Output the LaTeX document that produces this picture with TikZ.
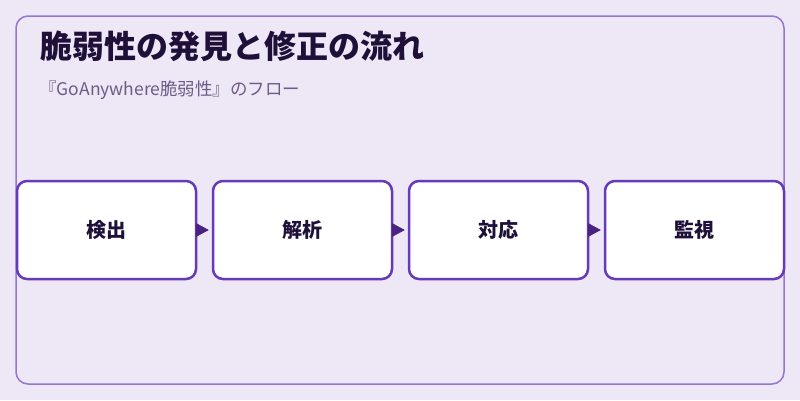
\documentclass[tikz,border=0pt]{standalone}
\usepackage{fontspec}
\setmainfont{Noto Sans CJK JP}
\usepackage{tikz}
\usetikzlibrary{arrows.meta}

\definecolor{pagebg}{RGB}{237,231,246}
\definecolor{panelline}{RGB}{149,117,205}
\definecolor{boxline}{RGB}{103,58,183}
\definecolor{arrowfill}{RGB}{74,35,128}
\definecolor{titletext}{RGB}{30,16,56}
\definecolor{subtext}{RGB}{110,92,135}

\begin{document}
\begin{tikzpicture}[x=1pt,y=1pt,yscale=-1,xscale=1,
  stepbox/.style={draw=boxline,fill=white,line width=2.5pt,rounded corners=10pt,
    minimum width=179pt,minimum height=98pt,inner sep=0pt,text=titletext,
    font=\bfseries\fontsize{20}{24}\selectfont},
  flow/.style={draw=arrowfill,line width=0.5pt,-{Triangle[length=13pt,width=14pt]},shorten >=3pt}]
%Shape: Rectangle (background)
\fill [pagebg] (0,0) rectangle (800,400) ;
%Shape: Rounded Rectangle (panel)
\draw [panelline,line width=1.5pt,rounded corners=12pt] (16,16) rectangle (784,384) ;

%Title
\node [anchor=base west,inner sep=0pt,text=titletext,font=\bfseries\fontsize{32}{38}\selectfont] (title) at (40,58) {脆弱性の発見と修正の流れ};
%Subtitle
\node [anchor=base west,inner sep=0pt,text=subtext,font=\fontsize{17.5}{21}\selectfont] (sub) at (39,95) {『GoAnywhere脆弱性』のフロー};

%Steps
\node [stepbox] (detect) at (106.5,230) {検出};
\node [stepbox] (analyse) at (302.5,230) {解析};
\node [stepbox] (respond) at (498.5,230) {対応};
\node [stepbox] (monitor) at (694.5,230) {監視};

%Arrows
\draw [flow] (detect.east) -- (analyse.west) ;
\draw [flow] (analyse.east) -- (respond.west) ;
\draw [flow] (respond.east) -- (monitor.west) ;

\end{tikzpicture}
\end{document}
